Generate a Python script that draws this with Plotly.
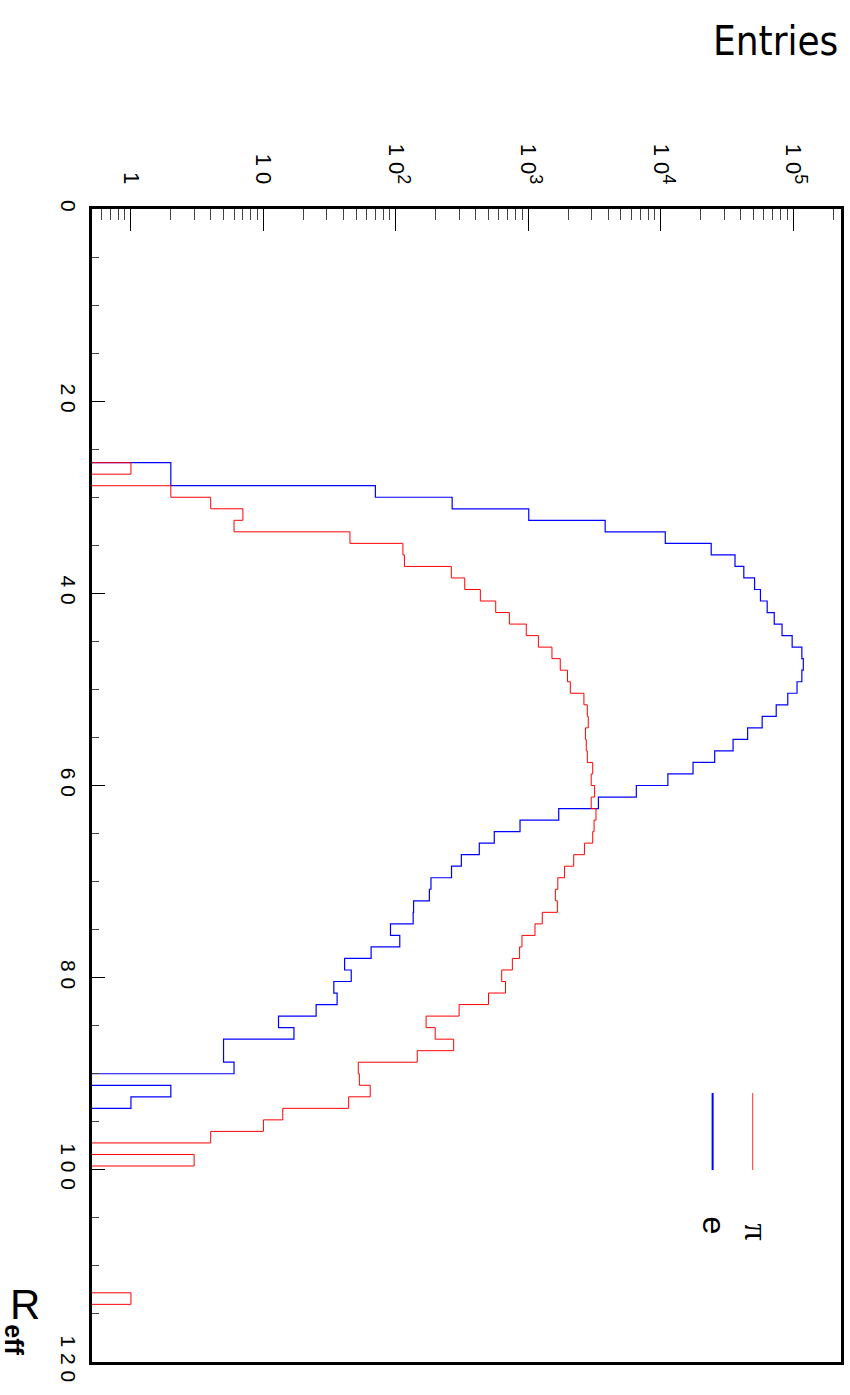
import plotly.graph_objects as go

# Histogram definition: 100 bins on R_eff in [0, 120]
nbins = 100
r_lo, r_hi = 0.0, 120.0

# electron (e) counts per bin
e_counts = [0]*22 + [
    2, 2, 70, 266, 1007, 3800, 10800, 24000, 36300, 42300,
    51000, 56500, 63500, 71800, 82200, 98000, 116000, 119000, 116000, 106700,
    90800, 74300, 58200, 45200, 35100, 25500, 17500, 11300, 6530, 3380,
    1695, 865, 553, 426, 312, 263, 184, 179, 136, 135,
    91, 107, 65, 41, 46, 34, 36, 25, 13, 17,
    5, 5, 6, 0, 2, 1] + [0]*22

# pion (pi) counts per bin
pi_counts = [0]*22 + [
    1, 0, 2, 4, 7, 6, 45, 113, 116, 262,
    331, 434, 567, 719, 964, 1190, 1507, 1741, 1973, 2074,
    2626, 2786, 2833, 2697, 2737, 2786, 3061, 2981, 3163, 2981,
    3240, 3134, 3061, 2650, 2200, 1876, 1668, 1599, 1655, 1273,
    1122, 895, 859, 757, 629, 672, 500, 300, 169, 198,
    273, 145, 52, 53, 64, 44, 14, 10, 4, 0,
    3, 0, 0, 0, 0, 0, 0, 0, 0, 0,
    0, 0, 1] + [0]*5

x_tickvals = [1, 10, 100, 1000, 10000, 100000]
x_exponents = ["", "", "2", "3", "4", "5"]
y_tickvals = [0, 20, 40, 60, 80, 100, 120]
y_ticktext = ["0", "2 0", "4 0", "6 0", "8 0", "1 0 0", "1 2 0"]

sup_style = "<sup><span style='font-size:18px'>{}</span></sup>"
x_ticktext = ["1"] + ["1 0" + (sup_style.format(e) if e else "") for e in x_exponents[1:]]

width = (r_hi - r_lo) / nbins
edges = [r_lo + i * width for i in range(nbins + 1)]
floor = 0.05  # empty bins drawn below the visible log range (clipped at frame)


def step_xy(counts):
    xs = [c if c > 0 else floor for c in counts]
    return xs + [xs[-1]], edges[:-1] + [edges[-1]]


fig = go.Figure()
for counts, color, lw, name in [(e_counts, "#0000ff", 1.2, "e"),
                                (pi_counts, "#ff0000", 1.0, "π")]:
    xs, ys = step_xy(counts)
    fig.add_trace(go.Scatter(x=xs, y=ys, mode="lines", line_shape="vh",
                             line=dict(color=color, width=lw), name=name,
                             showlegend=False, hoverinfo="skip"))

minor_vals = [k * 10 ** d for d in range(-1, 6) for k in range(2, 10)]

fig.update_layout(
    width=850, height=1395,
    margin=dict(l=92, r=9, t=209, b=33, autoexpand=False),
    paper_bgcolor="white", plot_bgcolor="white",
    font=dict(family="Liberation Sans, Arial, sans-serif", color="black"),
    xaxis=dict(type="log", side="top", range=[-0.294, 5.36],
               tickvals=x_tickvals, ticktext=x_ticktext, tickangle=90,
               ticks="inside", ticklen=22, tickwidth=1, tickcolor="black",
               minor=dict(tickvals=minor_vals, ticks="inside", ticklen=11,
                          tickwidth=1, tickcolor="#444"),
               tickfont=dict(size=22), ticklabelstandoff=14, automargin=False,
               showline=True, linewidth=3, linecolor="black", mirror=True,
               showgrid=False, zeroline=False),
    yaxis=dict(range=[r_hi, r_lo], tickvals=y_tickvals, ticktext=y_ticktext,
               tickangle=90, ticks="inside", ticklen=13, tickwidth=1,
               tickcolor="black",
               minor=dict(dtick=5, ticks="inside", ticklen=7, tickwidth=1,
                          tickcolor="#444"),
               tickfont=dict(size=21), ticklabelstandoff=3, automargin=False,
               showline=True, linewidth=3, linecolor="black", mirror=True,
               showgrid=False, zeroline=False),
)

# legend (drawn manually, rotated like the rest of the picture)
fig.add_shape(type="line", xref="paper", yref="paper", x0=0.8286, x1=0.8286,
              y0=0.1665, y1=0.2333, line=dict(color="#0000ff", width=2))
fig.add_shape(type="line", xref="paper", yref="paper", x0=0.882, x1=0.882,
              y0=0.1665, y1=0.2333, line=dict(color="#ff5555", width=1.2))
fig.add_annotation(text="e", xref="paper", yref="paper", x=0.857, y=0.109,
                   showarrow=False, textangle=90, font=dict(size=32))
fig.add_annotation(text="π", xref="paper", yref="paper", x=0.914, y=0.104,
                   showarrow=False, textangle=90,
                   font=dict(size=34, family="Liberation Serif, serif"))

# axis titles
fig.add_annotation(text="Entries", xref="paper", yref="paper", x=0.999, y=1.1457,
                   xanchor="right", yanchor="middle", showarrow=False,
                   font=dict(size=40, family="Liberation Sans Narrow, DejaVu Sans Condensed, Liberation Sans"))
fig.add_annotation(text="R", xref="paper", yref="paper", x=-0.112, y=0.028,
                   showarrow=False, font=dict(size=42))
fig.add_annotation(text="<b>eff</b>", xref="paper", yref="paper", x=-0.126, y=0.004,
                   showarrow=False, textangle=90, font=dict(size=25))

fig.write_html("out.html", config={"displayModeBar": False},
               post_script="document.body.style.margin='0';")
